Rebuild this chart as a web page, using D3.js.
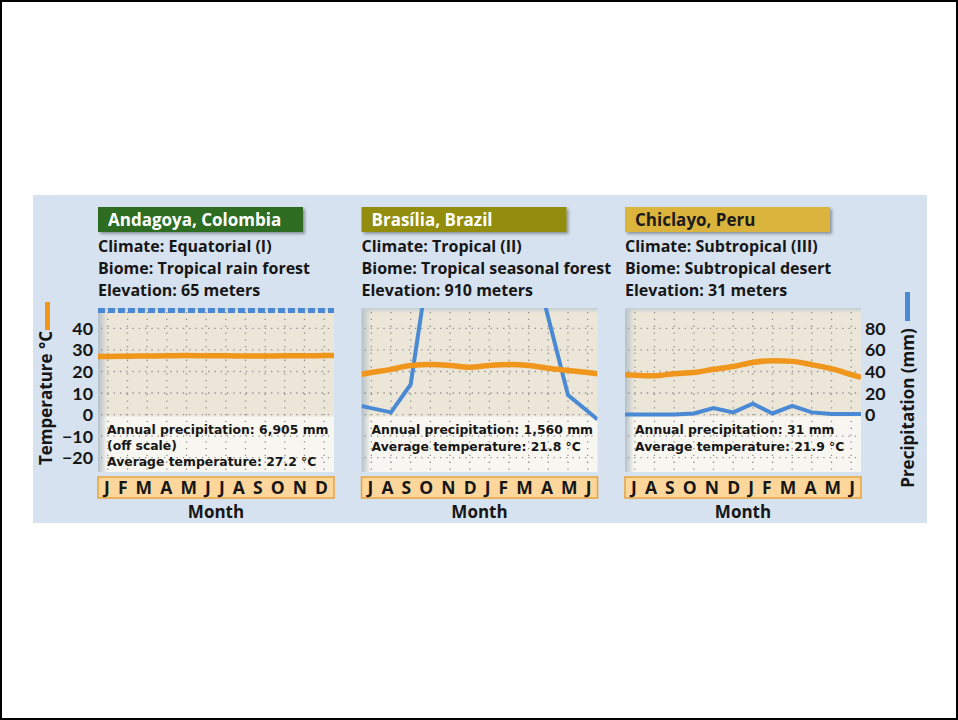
<!DOCTYPE html>
<html><head><meta charset="utf-8">
<script src="https://cdn.jsdelivr.net/npm/d3@7/dist/d3.min.js"></script>
<style>html,body{margin:0;padding:0;background:#fff;}svg{display:block;}text{font-family:"Open Sans",Lato,sans-serif;font-weight:bold;}</style>
</head><body>
<script>
// ---------- data ----------
const cities = ["Andagoya, Colombia", "Brasília, Brazil", "Chiclayo, Peru"];
const climates = ["Climate: Equatorial (I)", "Climate: Tropical (II)", "Climate: Subtropical (III)"];
const biomes = ["Biome: Tropical rain forest", "Biome: Tropical seasonal forest", "Biome: Subtropical desert"];
const elevations = ["Elevation: 65 meters", "Elevation: 910 meters", "Elevation: 31 meters"];
const precipNotes = ["Annual precipitation: 6,905 mm", "Annual precipitation: 1,560 mm", "Annual precipitation: 31 mm"];
const scaleNotes = ["(off scale)", "", ""];
const tempNotes = ["Average temperature: 27.2 °C", "Average temperature: 21.8 °C", "Average temperature: 21.9 °C"];
const monthsJanDec = ["J","F","M","A","M","J","J","A","S","O","N","D"];
const monthsJulJun = ["J","A","S","O","N","D","J","F","M","A","M","J"];
const tempTicks = [-20, -10, 0, 10, 20, 30, 40];
const precipTicks = [0, 20, 40, 60, 80];
// monthly values (mm / °C)
const andagoyaPrecip = [560, 470, 500, 610, 660, 600, 570, 610, 610, 570, 560, 585];
const andagoyaTemp   = [27.0, 27.1, 27.2, 27.3, 27.4, 27.3, 27.3, 27.2, 27.2, 27.3, 27.3, 27.4];
const brasiliaPrecip = [6, 2, 28, 150, 260, 290, 260, 240, 160, 90, 18, 3];
const brasiliaTemp   = [19.5, 21.0, 22.8, 23.2, 22.8, 22.0, 22.8, 23.2, 22.8, 21.5, 20.5, 19.5];
const chiclayoPrecip = [0, 0, 0, 1, 6, 2, 10, 1, 8, 2, 0.5, 0.5];
const chiclayoTemp   = [18.3, 18.0, 19.0, 19.5, 21.0, 22.3, 24.2, 25.0, 24.7, 23.2, 21.3, 18.6];

const panels = [
  {months: monthsJanDec, temp: andagoyaTemp, precip: andagoyaPrecip, offScale: true},
  {months: monthsJulJun, temp: brasiliaTemp, precip: brasiliaPrecip, offScale: false},
  {months: monthsJulJun, temp: chiclayoTemp, precip: chiclayoPrecip, offScale: false}
];
const headerFill = ["#2f6c22", "#928d0e", "#dbb43c"];
const headerText = ["#ffffff", "#ffffff", "#1b1b1b"];

// ---------- layout ----------
const W = 958, H = 720;
const plotTop = 308, plotBottom = 472, plotW = 236;
const panelLeft = d3.scaleLinear().domain([0, 2]).range([98, 625]);
const yT = d3.scaleLinear().domain([-26.7, 49.5]).range([plotBottom, plotTop]);
const yP = d3.scaleLinear().domain([-53.4, 99]).range([plotBottom, plotTop]);
const ink = "#161616";

const svg = d3.select("body").append("svg").attr("width", W).attr("height", H);
svg.append("rect").attr("x", 1).attr("y", 1).attr("width", W - 2).attr("height", H - 2)
  .attr("fill", "#fff").attr("stroke", "#000").attr("stroke-width", 2);
svg.append("rect").attr("x", 33).attr("y", 195).attr("width", 894).attr("height", 328).attr("fill", "#d6e2ef");

const defs = svg.append("defs");
const gl = defs.append("linearGradient").attr("id", "shadeL").attr("x1", 0).attr("x2", 1).attr("y1", 0).attr("y2", 0);
gl.append("stop").attr("offset", "0").attr("stop-color", "#b4c0c9");
gl.append("stop").attr("offset", "1").attr("stop-color", "#b4c0c9").attr("stop-opacity", 0);
const gt = defs.append("linearGradient").attr("id", "shadeT").attr("x1", 0).attr("x2", 0).attr("y1", 0).attr("y2", 1);
gt.append("stop").attr("offset", "0").attr("stop-color", "#c3ccd2");
gt.append("stop").attr("offset", "1").attr("stop-color", "#c3ccd2").attr("stop-opacity", 0);
const sh = defs.append("filter").attr("id", "drop").attr("x", "-10%").attr("y", "-30%").attr("width", "130%").attr("height", "180%");
sh.append("feDropShadow").attr("dx", 2).attr("dy", 2).attr("stdDeviation", 1.5).attr("flood-color", "#000").attr("flood-opacity", 0.35);

function extended(vals) {
  const n = vals.length;
  const pts = vals.map((v, i) => ({i, v}));
  pts.unshift({i: -0.5, v: vals[0] + (vals[0] - vals[1]) / 2});
  pts.push({i: n - 0.5, v: vals[n - 1] + (vals[n - 1] - vals[n - 2]) / 2});
  return pts;
}

panels.forEach((p, k) => {
  const left = panelLeft(k);
  const x = d3.scaleLinear().domain([-0.5, 11.5]).range([left, left + plotW]);
  const g = svg.append("g");

  // header
  g.append("rect").attr("x", left).attr("y", 207).attr("width", 205).attr("height", 25)
    .attr("fill", headerFill[k]).attr("filter", "url(#drop)");
  g.append("text").attr("x", left + 10).attr("y", 226).attr("font-size", 17)
    .attr("fill", headerText[k]).text(cities[k]);
  [climates[k], biomes[k], elevations[k]].forEach((t, j) => {
    g.append("text").attr("x", left).attr("y", 252 + j * 22).attr("font-size", 16)
      .attr("fill", ink).text(t);
  });

  // plot background
  g.append("rect").attr("x", left).attr("y", plotTop).attr("width", plotW).attr("height", plotBottom - plotTop).attr("fill", "#ebe6d8");
  g.append("rect").attr("x", left).attr("y", yT(0) + 2).attr("width", plotW).attr("height", plotBottom - yT(0) - 2).attr("fill", "#f8f6f0");
  g.append("rect").attr("x", left).attr("y", plotTop).attr("width", 9).attr("height", plotBottom - plotTop).attr("fill", "url(#shadeL)");
  g.append("rect").attr("x", left).attr("y", plotTop).attr("width", plotW).attr("height", 5).attr("fill", "url(#shadeT)");

  // grid
  g.selectAll(".hg").data(tempTicks).join("line")
    .attr("x1", left + 3).attr("x2", left + plotW).attr("y1", d => yT(d)).attr("y2", d => yT(d))
    .attr("stroke", "#8f8f8f").attr("stroke-width", 1.3).attr("stroke-dasharray", "1.3,5");
  g.selectAll(".vg").data(d3.range(12)).join("line")
    .attr("x1", d => x(d)).attr("x2", d => x(d)).attr("y1", plotTop + 4).attr("y2", plotBottom)
    .attr("stroke", "#8f8f8f").attr("stroke-width", 1.3).attr("stroke-dasharray", "1.3,5.5");

  // clip
  defs.append("clipPath").attr("id", "clip" + k).append("rect")
    .attr("x", left).attr("y", plotTop).attr("width", plotW).attr("height", plotBottom - plotTop);
  const lines = g.append("g").attr("clip-path", `url(#clip${k})`);

  if (p.offScale) {
    const yPc = yP.copy().clamp(true);
    lines.append("path").datum(extended(p.precip))
      .attr("d", d3.line().x(d => x(d.i)).y(d => yPc(d.v) + 2.5))
      .attr("fill", "none").attr("stroke", "#4a8ad4").attr("stroke-width", 5).attr("stroke-dasharray", "7,3");
  } else {
    lines.append("path").datum(extended(p.precip))
      .attr("d", d3.line().x(d => x(d.i)).y(d => yP(d.v)))
      .attr("fill", "none").attr("stroke", "#4a8ad4").attr("stroke-width", 4);
  }
  lines.append("path").datum(extended(p.temp))
    .attr("d", d3.line().x(d => x(d.i)).y(d => yT(d.v)).curve(d3.curveMonotoneX))
    .attr("fill", "none").attr("stroke", "#f0961c").attr("stroke-width", 5.5);

  // notes
  const notes = [precipNotes[k], scaleNotes[k], tempNotes[k]].filter(t => t);
  notes.forEach((t, j) => {
    g.append("text").attr("x", left + (k === 0 ? 9 : 10)).attr("y", 434 + j * (notes.length === 3 ? 16 : 17))
      .style("font-family", "'DejaVu Sans', sans-serif").attr("font-size", 12.4).attr("fill", ink).text(t);
  });

  // month bar
  g.append("rect").attr("x", left).attr("y", 477).attr("width", plotW).attr("height", 21)
    .attr("fill", "#fcd69b").attr("stroke", "#e8a43c").attr("stroke-width", 1.5);
  g.append("text").attr("x", left + 6).attr("y", 494).attr("font-size", 17.5).attr("fill", ink)
    .attr("textLength", plotW - 12).attr("lengthAdjust", "spacing").text(p.months.join(" "));
  g.append("text").attr("x", left + plotW / 2).attr("y", 518).attr("text-anchor", "middle")
    .attr("font-size", 17).attr("fill", ink).text("Month");
});

// axes labels
svg.selectAll(".tt").data(tempTicks).join("text")
  .attr("x", 93).attr("y", d => yT(d) + 6.5).attr("text-anchor", "end").style("font-family", "Lato, sans-serif")
  .attr("font-size", 17.8).attr("fill", ink)
  .text(d => d < 0 ? "\u2212" + Math.abs(d) : d);
svg.selectAll(".pt").data(precipTicks).join("text")
  .attr("x", 865).attr("y", d => yP(d) + 6.5).attr("text-anchor", "start").style("font-family", "Lato, sans-serif")
  .attr("font-size", 17.8).attr("fill", ink)
  .text(d => d);
svg.append("text").attr("transform", "translate(52,398) rotate(-90)").attr("text-anchor", "middle")
  .attr("font-size", 17).attr("fill", ink).text("Temperature °C");
svg.append("text").attr("transform", "translate(914,408) rotate(-90)").attr("text-anchor", "middle")
  .attr("font-size", 17).attr("fill", ink).text("Precipitation (mm)");
svg.append("rect").attr("x", 45).attr("y", 302).attr("width", 5).attr("height", 28).attr("fill", "#f0961c");
svg.append("rect").attr("x", 905).attr("y", 292).attr("width", 5).attr("height", 29).attr("fill", "#4a8ad4");
</script>
</body></html>
